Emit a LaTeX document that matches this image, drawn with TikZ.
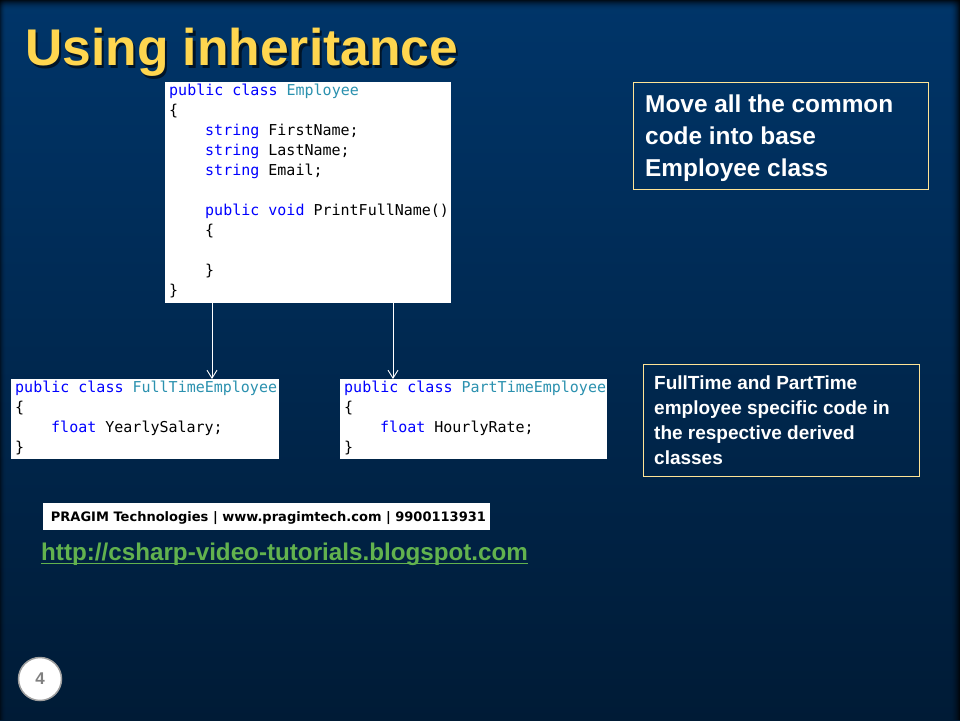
\documentclass[tikz,border=0pt]{standalone}
\usepackage{fontspec}
\usetikzlibrary{arrows.meta}
\newfontfamily\codefont{DejaVu Sans Mono}
\newfontfamily\labelfont{Liberation Sans}
\newfontfamily\footfont{DejaVu Sans}
\definecolor{bgtop}{RGB}{0,53,105}
\definecolor{bgbot}{RGB}{0,27,54}
\definecolor{kw}{RGB}{0,0,255}
\definecolor{tname}{RGB}{43,145,175}
\definecolor{titleyellow}{RGB}{255,214,79}
\definecolor{frameyellow}{RGB}{255,228,150}
\definecolor{linkgreen}{RGB}{98,178,78}
\newcommand\kw[1]{\textcolor{kw}{#1}}
\newcommand\tn[1]{\textcolor{tname}{#1}}
\newcommand\ind{\hspace*{36pt}}
\newcommand\codelines[1]{\parbox[t]{300pt}{\raggedright #1}}
\newcommand\titletext{\resizebox{433pt}{!}{\labelfont\bfseries\fontsize{52}{60}\selectfont Using inheritance}}
\begin{document}
\begin{tikzpicture}[x=1pt,y=-1pt,
  codebox/.style={fill=white, draw=none, anchor=north west, inner sep=0pt},
  code/.style={anchor=base west, inner sep=0pt, text=black,
    font=\codefont\fontsize{15}{20}\selectfont},
  inh/.style={draw=white, line width=0.9pt,
    -{Straight Barb[length=8pt,width=10pt,line width=0.9pt]}},
  note/.style={draw=frameyellow, line width=0.8pt, anchor=north west, inner sep=0pt},
  notetext/.style={anchor=base west, inner sep=0pt, text=white}]
\useasboundingbox (0,0) rectangle (960,720);

% slide background with darkened edges
\shade[top color=bgtop, bottom color=bgbot] (0,0) rectangle (960,720);
\foreach \i in {0,...,9}{
  \pgfmathsetmacro\op{0.75*(1-\i/10)^2}
  \fill[black, opacity=\op] ({959-\i},0) rectangle ({960-\i},720);
  \fill[black, opacity=\op] (0,\i) rectangle (960,{\i+1});
}
\foreach \i in {0,...,5}{
  \pgfmathsetmacro\op{0.5*(1-\i/6)^2}
  \fill[black, opacity=\op] (\i,0) rectangle ({\i+1},720);
}

% title with its drop shadow
\node[anchor=base west, inner sep=0pt, text=black, opacity=0.6] (titleshadow) at (27.5,68.2) {\titletext};
\node[anchor=base west, inner sep=0pt, text=titleyellow] (title) at (25,65.7) {\titletext};

% base class
\node[codebox, minimum width=286pt, minimum height=221pt] (emp) at (165,82) {};
\node[code] (empcode) at (169,95) {\codelines{%
  \kw{public class} \tn{Employee}\\
  \{\\
  \ind\kw{string} FirstName;\\
  \ind\kw{string} LastName;\\
  \ind\kw{string} Email;\\
  \mbox{}\\
  \ind\kw{public void} PrintFullName()\\
  \ind\{\\
  \mbox{}\\
  \ind\}\\
  \}}};

% derived classes
\node[codebox, minimum width=268pt, minimum height=80pt] (ft) at (11,379) {};
\node[code] (ftcode) at (15,392) {\codelines{%
  \kw{public class} \tn{FullTimeEmployee}\\
  \{\\
  \ind\kw{float} YearlySalary;\\
  \}}};

\node[codebox, minimum width=267pt, minimum height=80pt] (pt) at (340,379) {};
\node[code] (ptcode) at (344,392) {\codelines{%
  \kw{public class} \tn{PartTimeEmployee}\\
  \{\\
  \ind\kw{float} HourlyRate;\\
  \}}};

% inheritance arrows
\draw[inh] ([xshift=47pt]emp.south west) -- ([xshift=47pt]emp.south west |- ft.north);
\draw[inh] ([xshift=228pt]emp.south west) -- ([xshift=228pt]emp.south west |- pt.north);

% notes
\node[note, minimum width=295pt, minimum height=107pt] (common) at (633.3,82.3) {};
\node[notetext, font=\labelfont\bfseries\fontsize{24.4}{32}\selectfont] (commontext)
  at (645,112.7) {\parbox[t]{280pt}{\raggedright Move all the common\\code into base\\Employee class}};

\node[note, minimum width=275.4pt, minimum height=111.7pt] (specific) at (643.3,364) {};
\node[notetext, font=\labelfont\bfseries\fontsize{19}{25.3}\selectfont] (specifictext)
  at (654,389) {\parbox[t]{260pt}{\raggedright FullTime and PartTime\\employee specific code in\\the respective derived\\classes}};

% footer
\node[fill=white, anchor=north west, inner sep=0pt, minimum width=446.6pt,
  minimum height=26.7pt] (footer) at (42.7,503) {};
\node[anchor=base west, inner sep=0pt, text=black] (footertext) at (50.7,521)
  {\resizebox{435pt}{!}{\footfont\bfseries PRAGIM Technologies | www.pragimtech.com | 9900113931}};

\node[anchor=base west, inner sep=0pt, text=linkgreen,
  font=\labelfont\bfseries\fontsize{24.2}{28}\selectfont] (url) at (41,560)
  {http://csharp-video-tutorials.blogspot.com};
\draw[linkgreen, line width=1.6pt] ([yshift=-3.5pt]url.base west) -- ([yshift=-3.5pt]url.base east);

% slide number
\node[circle, fill=white, draw=gray!75, line width=1.5pt, minimum size=43pt, inner sep=0pt,
  text=gray, font=\labelfont\bfseries\fontsize{17}{17}\selectfont] (pagenum) at (40,679) {4};
\end{tikzpicture}
\end{document}
